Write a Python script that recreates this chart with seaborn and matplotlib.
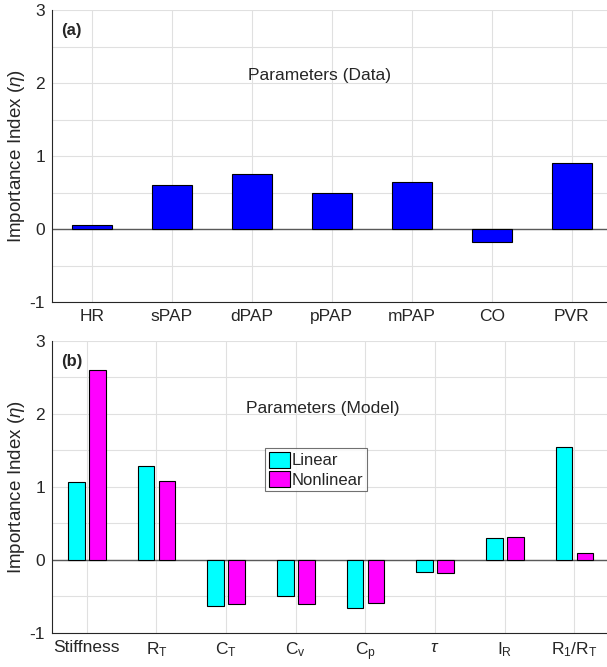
import numpy as np
import pandas as pd
import matplotlib
matplotlib.use('Agg')
import matplotlib.pyplot as plt
import seaborn as sns
from matplotlib.ticker import FixedLocator, FuncFormatter

# data
data_params = ['HR', 'sPAP', 'dPAP', 'pPAP', 'mPAP', 'CO', 'PVR']
data_eta = [0.05, 0.61, 0.75, 0.50, 0.65, -0.17, 0.90]

model_params = ['Stiffness', r'R$_\mathregular{T}$', r'C$_\mathregular{T}$',
                r'C$_\mathregular{v}$', r'C$_\mathregular{p}$', r'$\tau$',
                r'I$_\mathregular{R}$',
                r'R$_\mathregular{1}$/R$_\mathregular{T}$']
linear_eta = [1.07, 1.29, -0.63, -0.49, -0.66, -0.16, 0.30, 1.55]
nonlinear_eta = [2.60, 1.08, -0.60, -0.61, -0.59, -0.18, 0.32, 0.10]

sns.set_style("white")
plt.rcParams['font.family'] = ['Liberation Sans', 'DejaVu Sans']
plt.rcParams['mathtext.fontset'] = 'custom'
plt.rcParams['mathtext.rm'] = 'Liberation Sans'
plt.rcParams['mathtext.it'] = 'Liberation Sans:italic'
plt.rcParams['axes.unicode_minus'] = False
plt.rcParams['font.size'] = 12

fig = plt.figure(figsize=(6.07, 6.67), dpi=100)
ax1 = fig.add_axes([0.0857, 0.547, 0.922, 0.438])
ax2 = fig.add_axes([0.0857, 0.051, 0.918, 0.438])


def style_axis(ax, n):
    ax.set_xlim(-0.5, n - 0.5)
    ax.set_ylim(-1, 3)
    yt = np.arange(-1, 3.01, 0.5)
    ax.yaxis.set_major_locator(FixedLocator(yt))
    ax.yaxis.set_major_formatter(FuncFormatter(
        lambda v, p: f"{int(v)}" if abs(v - round(v)) < 1e-6 else ""))
    ax.grid(True, color='0.88', lw=0.8)
    ax.set_axisbelow(True)
    ax.axhline(0, color='0.35', lw=1.0, zorder=1.5)
    for s in ['top', 'right']:
        ax.spines[s].set_visible(False)
    for s in ['left', 'bottom']:
        ax.spines[s].set_color('0.15')
        ax.spines[s].set_linewidth(0.8)
    ax.tick_params(direction='in', length=4, width=0.8, color='0.15',
                   labelsize=12.5, pad=5)
    ax.tick_params(axis='x', length=5)
    ax.set_xlabel('')
    ax.set_ylabel(r'Importance Index ($\eta$)', fontsize=13.5, color='0.15',
                  labelpad=2)


sns.barplot(x=data_params, y=data_eta, color='blue', saturation=1,
            width=0.5, edgecolor='black', linewidth=0.8, ax=ax1, zorder=2)
style_axis(ax1, len(data_params))
ax1.text(0.017, 0.915, '(a)', transform=ax1.transAxes, fontweight='bold',
         fontsize=12)
ax1.text(2.84, 2.1, 'Parameters (Data)', ha='center', va='center',
         fontsize=12.5)

df = pd.DataFrame({
    'param': model_params * 2,
    'eta': linear_eta + nonlinear_eta,
    'model': ['Linear'] * len(model_params) + ['Nonlinear'] * len(model_params),
})
sns.barplot(data=df, x='param', y='eta', hue='model',
            palette={'Linear': 'cyan', 'Nonlinear': 'magenta'},
            saturation=1, width=0.6, gap=0.2, edgecolor='black',
            linewidth=0.8, ax=ax2, zorder=2)
style_axis(ax2, len(model_params))
ax2.text(0.017, 0.915, '(b)', transform=ax2.transAxes, fontweight='bold',
         fontsize=12)
ax2.text(3.39, 2.07, 'Parameters (Model)', ha='center', va='center',
         fontsize=12.5)
leg = ax2.legend(loc='upper left', bbox_to_anchor=(0.383, 0.632),
                 frameon=True, fancybox=False, edgecolor='0.3',
                 handlelength=1.3, handleheight=1.1, handletextpad=0.1,
                 borderpad=0.2, borderaxespad=0, labelspacing=0.15,
                 fontsize=12)
leg.get_frame().set_linewidth(0.8)

fig.savefig('out.png', dpi=100)
